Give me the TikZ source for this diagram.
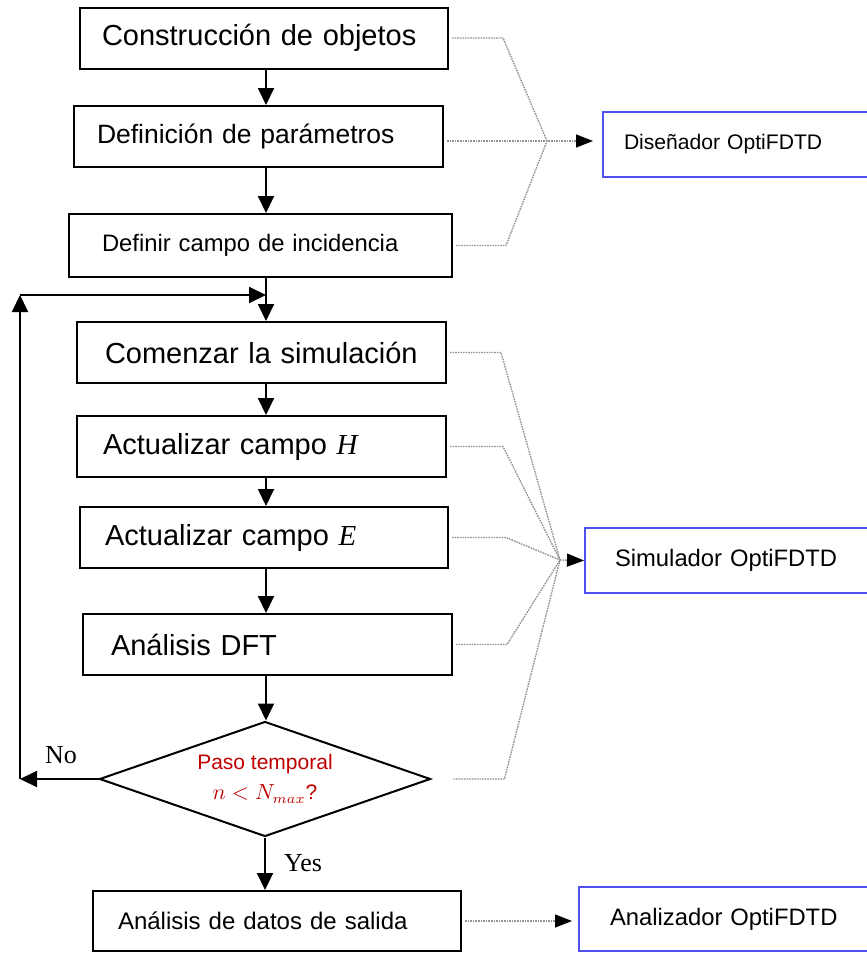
\documentclass[tikz,border=0pt]{standalone}
\usepackage[no-math]{fontspec}
\setmainfont{Liberation Sans}
\newfontfamily\serifyn{Liberation Serif}
\usepackage{tikz}
\usetikzlibrary{arrows.meta,shapes.geometric}
\definecolor{toolblue}{RGB}{80,80,240}
\definecolor{stepred}{RGB}{192,0,0}
\newcommand{\fieldsym}[1]{{\serifyn\itshape #1}}
\tikzset{
  proc/.style={draw, rectangle, align=left, minimum height=30.5pt, inner ysep=0pt},
  decision/.style={draw, diamond, aspect=2.9, align=center, minimum width=165.5pt, minimum height=57.5pt, inner sep=0pt, text=stepred, font=\fontsize{10.5}{15}\selectfont},
  tool/.style={draw=toolblue, rectangle, align=left, anchor=west, minimum height=32.5pt, inner ysep=0pt},
  dots/.style={draw=gray!85, line width=0.7pt, dash pattern=on 0.8pt off 0.5pt},
  dotarrow/.style={-{Triangle[length=8.5pt,width=6.5pt,color=black]}}
}

\begin{document}
\begin{tikzpicture}[x=0.5pt, y=-0.5pt, line width=1pt, >={Triangle[length=8.5pt,width=8pt]}]
  \useasboundingbox (0,0) rectangle (867,953);

  \node [proc, text width=162pt, inner xsep=11pt, font=\fontsize{14.5}{17}\selectfont] (0) at (264,38) {Construcción de objetos};
  \node [proc, text width=161.5pt, inner xsep=11.5pt, font=\fontsize{13.25}{16}\selectfont] (1) at (258.5,136.5) {Definición de parámetros};
  \node [proc, text width=158.5pt, inner xsep=16.5pt, minimum height=31.5pt, font=\fontsize{11.9}{14}\selectfont] (2) at (260.5,245.5) {Definir campo de incidencia};
  \node [proc, text width=156.5pt, inner xsep=14pt, font=\fontsize{14.5}{17}\selectfont] (3) at (261.5,352.5) {Comenzar la simulación};
  \node [proc, text width=158.5pt, inner xsep=13pt, font=\fontsize{14.5}{17}\selectfont] (4) at (261.5,446.5) {Actualizar campo \fieldsym{H}};
  \node [proc, text width=159pt, inner xsep=12.5pt, font=\fontsize{14.5}{17}\selectfont] (5) at (264,537.5) {Actualizar campo \fieldsym{E}};
  \node [proc, text width=156.5pt, inner xsep=14pt, font=\fontsize{14.5}{17}\selectfont] (6) at (267.5,644.5) {Análisis DFT};
  \node [decision] (7) at (265,779) {Paso temporal\\ $n<N_{max}$?};
  \node [proc, text width=159pt, inner xsep=12.5pt, minimum height=30pt, font=\fontsize{12}{14}\selectfont] (8) at (277,921) {Análisis de datos de salida};

  \node [tool, text width=130pt, inner xsep=10.5pt, font=\fontsize{10.55}{13}\selectfont] (9) at (602,144.5) {Diseñador OptiFDTD};
  \node [tool, text width=130pt, inner xsep=15pt, font=\fontsize{11.9}{14}\selectfont] (10) at (584,560.5) {Simulador OptiFDTD};
  \node [tool, text width=130pt, inner xsep=15.5pt, minimum height=32pt, font=\fontsize{11.9}{14}\selectfont] (11) at (578,919) {Analizador OptiFDTD};

  \node [font=\serifyn\fontsize{13}{15}\selectfont] (no) at (61,755) {No};
  \node [font=\serifyn\fontsize{13}{15}\selectfont] (yes) at (303,863) {Yes};

  \coordinate (ax) at (266,0);
  \coordinate (jd) at (547,141);
  \coordinate (js) at (560,560);
  \coordinate (lt) at (20,295);
  \coordinate (lb) at (20,779);

  % main flow
  \path[->] (0.south -| ax) edge (1.north -| ax)
            (1.south -| ax) edge (2.north -| ax)
            (2.south -| ax) edge (3.north -| ax)
            (3.south -| ax) edge (4.north -| ax)
            (4.south -| ax) edge (5.north -| ax)
            (5.south -| ax) edge (6.north -| ax)
            (6.south -| ax) edge (7.north -| ax)
            (7.south) edge (8.north -| 7.south);

  % loop back
  \draw[->] (7.west) -- (lb);
  \draw[->] (lb) -- (lt);
  \draw[->] (lt) -- (lt -| ax);

  % designer
  \draw[dots, shorten <=1.5pt] (0.east) -- ++(54,0) -- (jd);
  \draw[dots, shorten <=1.5pt] (2.east) -- ++(53,0) -- (jd);
  \draw[dots, dotarrow, shorten <=1.5pt, shorten >=4.5pt] (1.east |- jd) -- (9.west |- jd);

  % simulator
  \draw[dots, shorten <=1.5pt] (3.east) -- ++(54,0) -- (js);
  \draw[dots, shorten <=1.5pt] (4.east) -- ++(56,0) -- (js);
  \draw[dots, shorten <=1.5pt] (5.east) -- ++(57,0) -- (js);
  \draw[dots, shorten <=1.5pt] (6.east) -- ++(54,0) -- (js);
  \draw[dots, shorten <=11pt] (7.east) -- ++(73,0) -- (js);
  \draw[dots, dotarrow] (js) -- (10.west);

  % analyzer
  \draw[dots, dotarrow, shorten <=1.5pt, shorten >=3pt] (8.east) -- (8.east -| 11.west);
\end{tikzpicture}
\end{document}
